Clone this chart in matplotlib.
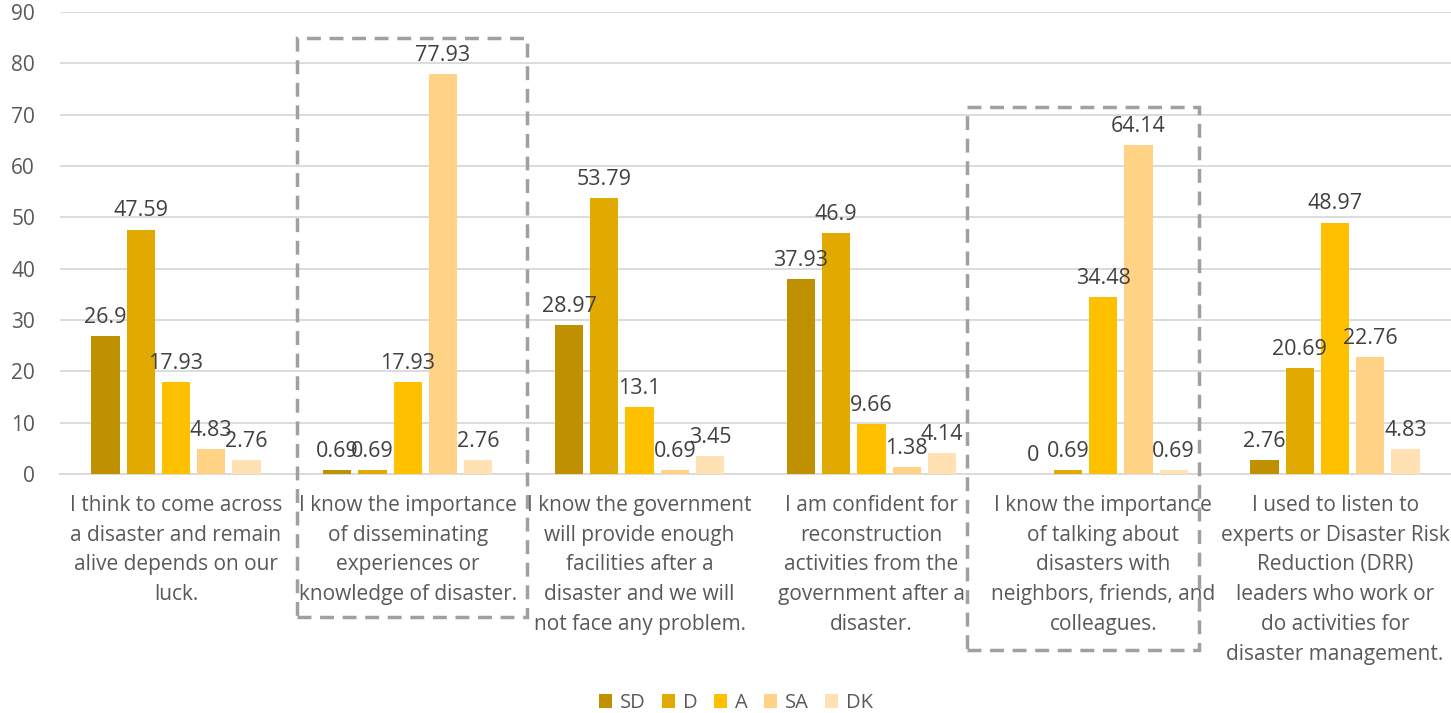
import matplotlib.pyplot as plt
import numpy as np
from matplotlib.patches import Rectangle

plt.rcParams['font.family'] = ['Open Sans', 'DejaVu Sans']

categories = [
    "I think to come across\na disaster and remain\nalive depends on our\nluck.",
    "I know the importance\nof disseminating\nexperiences or\nknowledge of disaster.",
    "I know the government\nwill provide enough\nfacilities after a\ndisaster and we will\nnot face any problem.",
    "I am confident for\nreconstruction\nactivities from the\ngovernment after a\ndisaster.",
    "I know the importance\nof talking about\ndisasters with\nneighbors, friends, and\ncolleagues.",
    "I used to listen to\nexperts or Disaster Risk\nReduction (DRR)\nleaders who work or\ndo activities for\ndisaster management.",
]
series_names = ["SD", "D", "A", "SA", "DK"]
sd = [26.9, 0.69, 28.97, 37.93, 0, 2.76]
d = [47.59, 0.69, 53.79, 46.9, 0.69, 20.69]
a = [17.93, 17.93, 13.1, 9.66, 34.48, 48.97]
sa = [4.83, 77.93, 0.69, 1.38, 64.14, 22.76]
dk = [2.76, 2.76, 3.45, 4.14, 0.69, 4.83]
values = [sd, d, a, sa, dk]
colors = ["#BF9000", "#E2AA00", "#FFC000", "#FFD285", "#FFE1B4"]

txt = "#595959"
fig = plt.figure(figsize=(14.51, 7.13), dpi=100)
ax = fig.add_axes([60 / 1451, 239 / 713, 1391 / 1451, 462 / 713])

x = np.arange(len(categories))
pitch = 0.152
width = 0.122
for i, (name, vals) in enumerate(zip(series_names, values)):
    pos = x + (i - 2) * pitch
    bars = ax.bar(pos, vals, width, color=colors[i], label=name, zorder=3)
    for p, v in zip(pos, vals):
        ax.text(p, v + 1.6, f"{v:g}", ha="center", va="bottom",
                fontsize=15.5, color="#404040", zorder=4)

ax.set_xlim(-0.5, len(categories) - 0.5)
ax.set_ylim(0, 90)
ax.set_yticks(range(0, 91, 10))
ax.yaxis.grid(True, color="#D9D9D9", linewidth=1.3, zorder=0)
for s in ["top", "right", "left"]:
    ax.spines[s].set_visible(False)
ax.spines["bottom"].set_color("#D9D9D9")
ax.spines["bottom"].set_linewidth(1.3)
ax.tick_params(axis="both", length=0, colors=txt, labelsize=15)
ax.tick_params(axis="y", pad=18)
ax.set_xticks(x)
ax.set_xticklabels(categories, linespacing=1.55, va="top")
ax.tick_params(axis="x", pad=15)

ax.legend(loc="upper center", bbox_to_anchor=(0.486, -0.435), ncol=5, frameon=False,
          fontsize=14.5, handlelength=0.65, handleheight=0.65, handletextpad=0.4,
          columnspacing=0.8, labelcolor=txt)

# dashed highlight boxes (figure pixels)
for (x0, y0, x1, y1) in [(297, 38, 527, 617), (967, 107, 1199, 650)]:
    fig.add_artist(Rectangle((x0 / 1451, 1 - y1 / 713), (x1 - x0) / 1451, (y1 - y0) / 713,
                             transform=fig.transFigure, fill=False, edgecolor="#A0A0A0",
                             linestyle=(0, (4, 2.5)), linewidth=2.5, zorder=10))

fig.savefig("out.png", dpi=100)
